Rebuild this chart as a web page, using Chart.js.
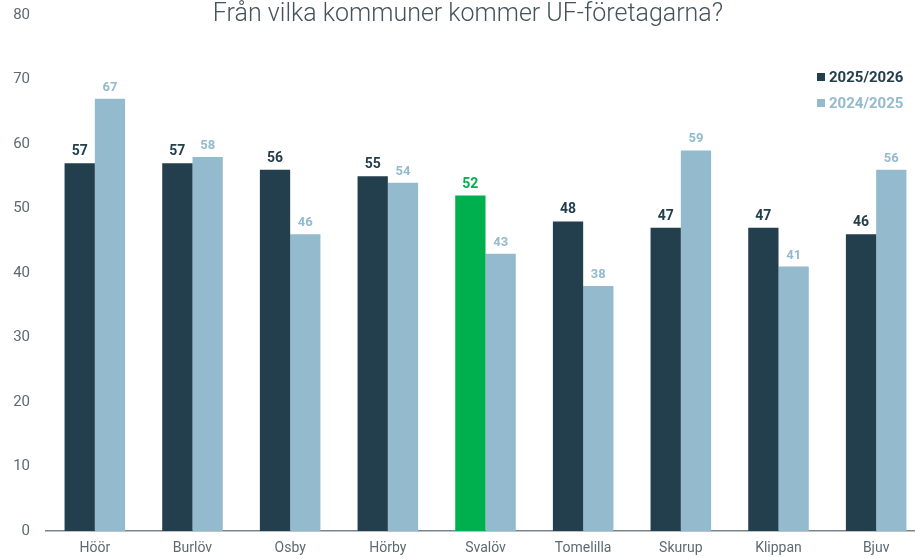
<!DOCTYPE html>
<html>
<head>
<meta charset="utf-8">
<script src="https://cdn.jsdelivr.net/npm/chart.js@4"></script>
<style>
  html, body { margin: 0; padding: 0; background: #fff; overflow: hidden; }
  #wrap { position: absolute; left: 0; top: 0; width: 930px; height: 558px; }
</style>
</head>
<body>
<div id="wrap"><canvas id="grafico" width="930" height="558"></canvas></div>
<script>
// DATOS
const kommuner = ['Höör', 'Burlöv', 'Osby', 'Hörby', 'Svalöv', 'Tomelilla', 'Skurup', 'Klippan', 'Bjuv'];
const ar2025 = [57, 57, 56, 55, 52, 48, 47, 47, 46];
const ar2024 = [67, 58, 46, 54, 43, 38, 59, 41, 56];
const yTicks = [0, 10, 20, 30, 40, 50, 60, 70, 80];

const morkBla = '#233e4d';
const ljusBla = '#93bacd';
const gron = '#00b04f';
const titel = 'Från vilka kommuner kommer UF-företagarna?';

// Svalöv is highlighted in green
const farger2025 = kommuner.map(k => k === 'Svalöv' ? gron : morkBla);

// labels over bars, title and legend
const etiketter = {
  id: 'etiketter',
  afterDatasetsDraw(chart) {
    const ctx = chart.ctx;
    ctx.save();
    ctx.textAlign = 'center';
    ctx.textBaseline = 'alphabetic';
    chart.data.datasets.forEach((ds, i) => {
      const meta = chart.getDatasetMeta(i);
      meta.data.forEach((bar, j) => {
        ctx.font = i === 0 ? 'bold 14px Roboto' : 'bold 13px Roboto';
        ctx.fillStyle = i === 0 ? farger2025[j] : ljusBla;
        ctx.fillText(ds.data[j], bar.x, bar.y - 8);
      });
    });
    ctx.restore();
  },
  afterDraw(chart) {
    const ctx = chart.ctx;
    ctx.save();
    // titel
    ctx.font = '300 25px Roboto';
    ctx.fillStyle = '#44525b';
    ctx.textAlign = 'center';
    ctx.textBaseline = 'middle';
    ctx.fillText(titel, 468, 15);
    // legend
    ctx.textAlign = 'left';
    ctx.font = 'bold 15px Roboto';
    const poster = [
      { text: '2025/2026', color: morkBla, y: 77 },
      { text: '2024/2025', color: ljusBla, y: 103 }
    ];
    poster.forEach(p => {
      ctx.fillStyle = p.color;
      ctx.fillRect(817, p.y - 4, 8, 8);
      ctx.fillText(p.text, 829, p.y + 1);
    });
    ctx.restore();
  }
};

const ctx = document.getElementById('grafico').getContext('2d');
const grafico = new Chart(ctx, {
  type: 'bar',
  data: {
    labels: kommuner,
    datasets: [
      { label: '2025/2026', data: ar2025, backgroundColor: farger2025 },
      { label: '2024/2025', data: ar2024, backgroundColor: ljusBla }
    ]
  },
  options: {
    responsive: false,
    animation: false,
    layout: { padding: { top: 15, right: 5, left: 0, bottom: 0 } },
    datasets: {
      bar: { barPercentage: 1, categoryPercentage: 0.62 }
    },
    plugins: {
      legend: { display: false },
      tooltip: { enabled: false }
    },
    scales: {
      x: {
        grid: { display: false, drawTicks: false },
        border: { display: true, color: '#76858d', width: 1.5 },
        ticks: { color: '#5d6a72', font: { family: 'Roboto', size: 14 }, padding: 9 },
        afterFit(scale) { scale.height = 27; }
      },
      y: {
        min: 0,
        max: 80,
        afterBuildTicks(scale) { scale.ticks = yTicks.map(v => ({ value: v })); },
        grid: { display: false, drawTicks: false },
        border: { display: false },
        ticks: { color: '#5d6a72', font: { family: 'Roboto', size: 15 }, padding: 16 },
        afterFit(scale) {
          scale.width = 46;
          scale.paddingTop = 0;
          scale.paddingBottom = 0;
        }
      }
    }
  },
  plugins: [etiketter]
});
</script>
</body>
</html>
